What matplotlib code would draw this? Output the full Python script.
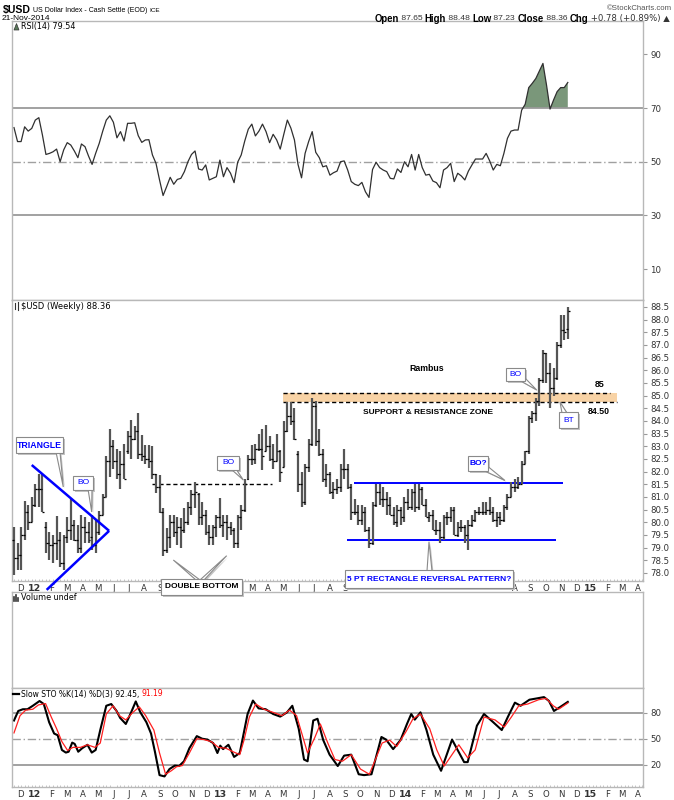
import numpy as np
import matplotlib
matplotlib.use('Agg')
import matplotlib.pyplot as plt
from matplotlib.patches import Polygon
import pandas as pd

# ---------------- DATA ----------------
start_date = pd.Timestamp('2011-11-25')   # first weekly bar
n_weeks = 157                             # last bar 2014-11-21

opens = [79.3, 78.6, 78.7, 79.5, 80.4, 80.0, 80.7, 81.3, 81.3, 79.8,
         79.2, 79.1, 79.2, 79.3, 78.4, 79.4, 79.7, 79.9, 79.3, 79.0,
         79.8, 79.6, 79.4, 79.1, 79.6, 80.3, 81.0, 82.4, 83.0, 82.4,
         81.9, 82.3, 82.8, 83.4, 83.3, 83.6, 82.7, 82.6, 82.5, 82.4,
         81.9, 81.4, 80.4, 78.9, 79.4, 80.0, 79.6, 79.8, 79.7, 80.0,
         80.6, 81.1, 81.1, 80.2, 80.3, 79.6, 79.4, 79.8, 80.2, 79.9,
         80.0, 79.8, 79.7, 79.2, 80.2, 80.5, 81.7, 82.5, 82.5, 82.9,
         82.9, 82.8, 83.0, 82.5, 82.4, 82.8, 82.2, 83.6, 84.2, 84.0,
         82.7, 81.5, 80.8, 82.2, 83.1, 84.6, 83.2, 82.7, 81.7, 81.9,
         81.2, 81.3, 81.4, 82.1, 82.1, 81.4, 80.4, 80.4, 80.1, 80.4,
         79.7, 79.2, 80.7, 81.2, 80.9, 80.9, 80.7, 80.3, 80.0, 80.5,
         80.2, 80.8, 80.6, 81.2, 80.6, 81.3, 80.7, 80.2, 80.3, 79.7,
         79.7, 79.4, 80.2, 80.2, 80.5, 79.5, 79.8, 79.8, 79.5, 79.9,
         80.1, 80.4, 80.4, 80.4, 80.5, 80.4, 80.1, 80.2, 80.1, 80.6,
         81.0, 81.4, 81.4, 81.5, 82.3, 82.8, 84.1, 84.3, 84.8, 85.6,
         86.7, 85.9, 85.3, 85.7, 87.0, 87.6, 87.65]
highs = [79.8, 79.2, 79.8, 80.85, 80.7, 81.0, 81.5, 81.9, 81.9, 80.0,
         79.6, 79.5, 80.25, 79.6, 79.5, 80.2, 80.9, 80.1, 79.9, 80.3,
         80.2, 80.0, 80.3, 80.1, 80.45, 81.1, 82.6, 83.7, 83.25, 82.9,
         82.8, 83.1, 83.6, 84.04, 83.8, 84.3, 83.45, 83.05, 83.05, 83.0,
         81.9, 81.87, 80.55, 79.76, 80.3, 80.3, 80.2, 80.16, 80.55, 80.8,
         81.28, 81.6, 81.14, 80.8, 80.5, 79.9, 79.9, 80.3, 80.97, 80.3,
         80.3, 80.0, 79.76, 80.3, 80.7, 81.7, 82.66, 83.05, 83.1, 83.5,
         83.7, 83.84, 83.4, 83.1, 83.5, 82.86, 84.0, 84.76, 84.76, 84.5,
         82.8, 82.0, 82.3, 83.3, 84.9, 84.8, 83.7, 82.9, 82.3, 82.0,
         81.6, 81.7, 82.3, 82.9, 82.3, 81.5, 80.9, 80.7, 80.7, 80.6,
         79.8, 80.8, 81.5, 81.5, 81.4, 81.2, 81.0, 80.6, 80.7, 80.6,
         81.0, 81.3, 81.3, 81.5, 81.5, 81.4, 80.9, 80.4, 80.5, 80.1,
         80.0, 80.3, 80.4, 80.6, 80.6, 80.0, 80.1, 79.9, 80.1, 80.3,
         80.5, 80.6, 80.8, 80.8, 81.0, 80.6, 80.4, 80.4, 80.7, 81.1,
         81.6, 81.7, 81.8, 82.4, 82.8, 84.2, 84.4, 84.9, 85.7, 86.8,
         86.7, 86.3, 86.1, 87.1, 88.2, 88.2, 88.48]
lows = [77.9, 78.1, 78.1, 79.3, 79.7, 80.0, 80.6, 80.6, 80.4, 78.8,
        78.5, 78.4, 78.5, 78.25, 78.1, 79.2, 79.3, 79.25, 78.8, 78.8,
        79.2, 79.2, 78.9, 78.8, 79.5, 80.3, 81.0, 81.8, 82.1, 81.7,
        81.3, 81.7, 82.7, 82.5, 83.25, 82.5, 82.4, 82.3, 82.13, 81.7,
        81.15, 80.35, 78.65, 78.8, 79.0, 79.4, 79.1, 78.97, 79.57, 79.9,
        80.29, 80.55, 79.9, 79.9, 79.5, 79.1, 79.1, 79.4, 79.76, 79.4,
        79.3, 79.5, 78.97, 78.97, 79.7, 80.4, 81.67, 82.26, 82.3, 82.8,
        82.06, 82.8, 82.4, 82.1, 82.4, 81.6, 82.2, 83.58, 83.84, 83.25,
        81.2, 80.6, 80.7, 82.0, 83.0, 83.0, 82.6, 81.6, 81.4, 81.1,
        80.9, 81.1, 81.2, 81.7, 81.3, 80.1, 80.3, 79.9, 79.9, 79.6,
        79.0, 79.1, 80.6, 80.7, 80.6, 80.3, 80.3, 79.9, 79.8, 79.9,
        80.0, 80.5, 80.5, 80.4, 80.5, 80.7, 80.2, 80.0, 79.7, 79.5,
        79.2, 79.3, 79.9, 80.0, 79.5, 79.4, 79.6, 79.2, 78.9, 79.8,
        80.0, 80.3, 80.3, 80.3, 80.3, 80.0, 79.8, 79.9, 80.0, 80.5,
        81.0, 81.2, 81.3, 81.5, 82.3, 82.7, 83.9, 84.0, 84.6, 85.5,
        85.5, 84.5, 85.0, 85.6, 86.9, 87.2, 87.23]
closes = [78.6, 78.7, 79.5, 80.4, 80.0, 80.7, 81.3, 81.3, 80.4, 79.2,
          79.1, 79.2, 79.3, 78.4, 79.4, 79.7, 79.9, 79.3, 79.0, 79.8,
          79.6, 79.3, 79.1, 79.6, 80.3, 81.0, 82.4, 83.0, 82.4, 81.9,
          82.3, 81.7, 83.4, 83.3, 83.6, 82.7, 82.6, 82.5, 82.4, 81.9,
          81.4, 80.4, 78.9, 79.4, 80.0, 79.6, 79.8, 79.7, 80.0, 80.6,
          81.1, 81.2, 80.2, 80.3, 79.6, 79.4, 79.8, 80.2, 79.9, 80.0,
          79.8, 79.7, 79.2, 80.2, 80.5, 81.5, 82.5, 82.5, 82.9, 82.9,
          82.6, 83.0, 82.5, 82.4, 82.8, 82.0, 83.6, 84.2, 84.0, 83.3,
          81.5, 80.8, 82.2, 83.1, 84.6, 83.2, 82.7, 81.7, 81.9, 81.2,
          81.3, 81.4, 82.1, 82.1, 81.4, 80.4, 80.4, 80.1, 80.4, 79.7,
          79.2, 80.7, 81.2, 80.9, 80.9, 80.7, 80.3, 80.0, 80.5, 80.2,
          80.8, 80.6, 81.2, 80.6, 81.3, 80.7, 80.2, 80.3, 79.7, 79.7,
          79.4, 80.2, 80.2, 80.5, 79.5, 79.8, 79.8, 79.5, 79.9, 80.1,
          80.4, 80.4, 80.4, 80.5, 80.4, 80.1, 80.2, 80.1, 80.6, 81.0,
          81.4, 81.4, 81.5, 82.3, 82.8, 84.1, 84.3, 84.8, 85.6, 86.7,
          85.9, 85.3, 85.7, 87.0, 87.6, 87.5, 88.36]

rsi = [62.7, 57.5, 57.5, 63.0, 61.4, 62.4, 65.5, 66.4, 60.0, 52.7,
       53.1, 53.7, 54.7, 50.0, 54.4, 57.1, 56.2, 54.0, 51.5, 56.6,
       55.6, 52.1, 49.0, 53.1, 56.8, 61.4, 65.5, 67.1, 64.7, 58.9,
       61.2, 57.7, 64.3, 64.3, 64.5, 59.7, 57.2, 58.1, 58.2, 52.5,
       49.4, 43.2, 37.4, 40.7, 44.2, 41.6, 43.4, 43.8, 46.3, 50.0,
       52.7, 54.0, 47.3, 46.9, 48.8, 43.2, 43.8, 44.4, 50.6, 44.4,
       47.8, 45.7, 42.2, 49.8, 52.5, 57.7, 62.1, 64.0, 59.6, 61.4,
       64.0, 61.2, 57.1, 60.2, 58.1, 54.7, 60.2, 65.5, 62.5, 58.1,
       49.0, 44.0, 53.1, 57.5, 61.2, 53.5, 51.5, 48.1, 48.5, 45.0,
       45.9, 46.5, 50.0, 50.3, 46.9, 42.6, 41.6, 41.1, 42.3, 38.8,
       36.7, 47.1, 49.8, 47.8, 46.9, 46.3, 43.8, 43.6, 47.3, 46.0,
       50.0, 48.1, 52.7, 46.9, 52.7, 47.8, 45.0, 45.3, 42.8, 42.2,
       40.3, 46.9, 47.8, 49.4, 42.6, 45.7, 44.7, 43.2, 46.5, 48.8,
       51.0, 51.0, 51.0, 53.1, 50.3, 46.9, 49.0, 48.5, 53.1, 58.7,
       61.4, 61.8, 61.8, 69.2, 71.4, 77.6, 79.2, 81.0, 83.8, 86.6,
       78.6, 69.6, 73.0, 76.1, 77.6, 77.6, 79.5]

# Slow stochastic, read as line vertices (week position, value)
sto_k_wk = [0.0, 1.2, 2.5, 3.8, 5.3, 7.2, 8.4, 9.9, 11.3, 12.3, 13.5, 14.6, 15.4,
            16.4, 17.1, 18.1, 19.2, 20.7, 21.9, 23.0, 24.3, 26.0, 27.4, 28.9, 29.9,
            31.5, 33.0, 34.3, 35.6, 37.3, 38.6, 39.7, 41.0, 42.4, 43.8, 45.3, 46.5,
            47.9, 49.4, 51.5, 53.0, 54.5, 56.1, 57.3, 58.1, 58.9, 60.4, 62.0, 63.6,
            65.8, 67.3, 68.9, 70.9, 73.0, 75.0, 76.9, 78.4, 80.2, 81.7, 82.7, 84.3,
            85.5, 87.1, 88.9, 91.2, 93.0, 95.0, 97.1, 98.6, 100.7, 103.5, 104.8,
            106.8, 108.9, 110.7, 111.9, 112.9, 114.5, 116.2, 118.1, 120.3, 123.4,
            124.7, 126.8, 127.8, 130.4, 132.4, 135.0, 137.4, 139.1, 141.1, 142.7,
            145.2, 147.3, 149.3, 150.7, 152.1, 153.9, 156.0]
sto_k_val = [71, 82, 84, 84, 88, 93.5, 90, 69, 56, 54, 37, 34, 35,
             45.5, 44, 35, 39, 43, 34, 37, 60, 88, 90, 82, 74,
             67, 80.4, 93, 80.4, 69, 56, 35, 8, 6.5, 15, 19, 18.5,
             24, 39, 53, 50, 49, 45, 33.5, 42, 38, 43, 29, 33.5,
             78.5, 94, 85, 84, 78.5, 75.5, 80.4, 88, 61.6, 26, 24, 71,
             73, 48.5, 31.6, 18.5, 30.5, 31.6, 9, 8, 9, 52, 49,
             38, 48.5, 67, 78.5, 72, 80.4, 60, 31.6, 13, 49,
             39, 23, 23, 65, 78.5, 69, 60, 75, 91.6, 88,
             95, 96.5, 98, 93.5, 82, 86.7, 92.45]
sto_d_wk = [0.0, 1.7, 3.3, 5.3, 6.9, 8.9, 10.5, 12.0, 13.5, 15.1, 16.6, 18.7, 20.7,
            22.8, 24.3, 26.0, 27.9, 29.7, 31.5, 33.5, 35.3, 37.1, 39.4, 41.0, 42.7,
            44.3, 45.8, 47.4, 49.4, 51.5, 53.5, 55.6, 57.6, 59.7, 61.7, 63.6, 64.8,
            66.3, 68.1, 70.4, 73.0, 75.5, 77.6, 79.6, 82.7, 84.8, 86.3, 88.4, 90.4,
            92.5, 95.0, 97.6, 100.1, 103.7, 105.8, 107.8, 110.4, 112.4, 114.5, 117.1,
            119.1, 121.2, 123.7, 125.3, 127.8, 129.9, 132.4, 135.5, 138.1, 140.1,
            142.2, 144.7, 147.8, 149.9, 151.9, 153.4, 156.0]
sto_d_val = [56.7, 76.6, 83, 84, 89, 90.5, 75, 61.6, 46.6, 36.5, 40, 40, 43,
             40, 45, 78.5, 88, 76.6, 71.7, 80.4, 86.7, 76.6, 60, 33.5, 9,
             13, 17.7, 19, 33.5, 50, 49, 46.6, 40, 39, 35, 31.6, 48.5,
             75, 90, 84, 80.4, 76.6, 83, 76.6, 33.5, 52, 67, 45, 26,
             24, 31.6, 15, 9, 45, 48.5, 41, 58, 73, 78.5, 61.6,
             37, 18.5, 33.5, 43, 28, 37, 75, 71.7, 63.5, 75,
             88, 90, 95, 96.5, 88, 84, 91.19]

price_ticks = [78.0, 78.5, 79.0, 79.5, 80.0, 80.5, 81.0, 81.5, 82.0, 82.5, 83.0,
               83.5, 84.0, 84.5, 85.0, 85.5, 86.0, 86.5, 87.0, 87.5, 88.0, 88.5]
rsi_ticks = [10, 30, 50, 70, 90]
sto_ticks = [20, 50, 80]

# ---------------- FIGURE ----------------
W, H = 674, 800
fig = plt.figure(figsize=(6.74, 8.0), dpi=100)
fig.patch.set_facecolor('white')

def fx(x):
    return x / W

def fy(y):
    return 1 - y / H

L_PX, R_PX = 12.5, 643.3
XLIM = (-0.42, 177.27)
SPINE = '#b8b8b8'

def wk_to_px(w):
    return L_PX + (w - XLIM[0]) / (XLIM[1] - XLIM[0]) * (R_PX - L_PX)

def make_ax(top, bottom):
    ax = fig.add_axes([fx(L_PX), fy(bottom), (R_PX - L_PX) / W, (bottom - top) / H])
    ax.set_xlim(*XLIM)
    for s in ax.spines.values():
        s.set_color(SPINE)
        s.set_linewidth(1.0)
    ax.yaxis.tick_right()
    ax.tick_params(axis='y', labelsize=6.2, length=3, color='#999999',
                   labelcolor='#333333', pad=2)
    ax.tick_params(axis='x', length=0, labelbottom=False)
    return ax

ax_rsi = make_ax(21, 300)
ax_px = make_ax(300, 581)
ax_vol = make_ax(592, 688)
ax_sto = make_ax(688, 787)

x = np.arange(n_weeks)

def wk(d):
    return (d - start_date).days / 7.0

# month labels
months = pd.date_range('2011-12-01', '2015-04-01', freq='MS')
letters = 'JFMAMJJASOND'
tick_pos, tick_lab, tick_bold = [], [], []
for m in months:
    if m.month == 1:
        tick_pos.append(wk(m) + 0.6)
        tick_lab.append(f'{m.year % 100:02d}')
        tick_bold.append(True)
    else:
        tick_pos.append(wk(m) + 1.0)
        tick_lab.append(letters[m.month - 1])
        tick_bold.append(False)

# label areas hidden behind callout boxes on the price panel
hidden_px = [(164, 244), (347, 511)]

for ax in (ax_px, ax_sto):
    ax.set_xticks(tick_pos)
    ax.set_xticklabels(tick_lab)
    ax.tick_params(axis='x', labelbottom=True, labelsize=6.2, labelcolor='#333333', pad=2.5)
    for lbl, b, p in zip(ax.get_xticklabels(), tick_bold, tick_pos):
        if b:
            lbl.set_fontweight('bold')
            lbl.set_fontsize(6.8)
        if ax is ax_px:
            xp = wk_to_px(p)
            if any(a <= xp <= b2 for a, b2 in hidden_px):
                lbl.set_visible(False)
    ax.set_xticks(np.arange(0, 178, 1), minor=True)
    ax.tick_params(axis='x', which='minor', length=1.5, color='#bbbbbb', direction='in')

# ---------------- RSI ----------------
ax_rsi.set_ylim(-1.5, 102.4)
ax_rsi.set_yticks(rsi_ticks)
ax_rsi.axhline(70, color='#9a9a9a', lw=1.3)
ax_rsi.axhline(30, color='#9a9a9a', lw=1.3)
ax_rsi.axhline(50, color='#a0a0a0', lw=1.0, ls=(0, (6, 2, 1, 2)))
rsi_arr = np.array(rsi)
ax_rsi.fill_between(x, rsi_arr, 70, where=rsi_arr > 70, interpolate=True,
                    color='#7a977a', linewidth=0)
ax_rsi.plot(x, rsi_arr, color='#303030', lw=0.9)

# ---------------- PRICE ----------------
ax_px.set_ylim(77.68, 88.776)
ax_px.set_yticks(price_ticks)
ax_px.set_yticklabels([f'{v:.1f}' for v in price_ticks])

# support/resistance zone
z0, z1 = 75.9, 169.9
ax_px.fill_between([z0, z1], 84.75, 85.1, color='#f8d3a6', lw=0, zorder=1)
ax_px.hlines(85.1, z0, 168.0, colors='black', linestyles=(0, (3, 2)), lw=1.0, zorder=2)
ax_px.hlines(84.75, z0, z1, colors='black', linestyles=(0, (3, 2)), lw=1.0, zorder=2)
# earlier dashed resistance line
ax_px.hlines(81.5, 38.8, 72.6, colors='black', linestyles=(0, (3, 2)), lw=1.0, zorder=2)
# rectangle lines
ax_px.hlines(81.55, 95.8, 154.7, colors='#0000ff', lw=1.4, zorder=2)
ax_px.hlines(79.3, 93.9, 152.7, colors='#0000ff', lw=1.4, zorder=2)
# triangle
ax_px.plot([5.0, 26.8], [82.26, 79.66], color='#0000ff', lw=1.8, zorder=4,
           solid_capstyle='butt')
ax_px.plot([9.2, 26.8], [77.33, 79.66], color='#0000ff', lw=1.8, zorder=4,
           clip_on=False, solid_capstyle='butt')

# OHLC bars
ax_px.vlines(x, lows, highs, color='#555555', lw=1.6, zorder=3)
ax_px.hlines(opens, x - 0.5, x, color='black', lw=0.9, zorder=3)
ax_px.hlines(closes, x, x + 0.5, color='black', lw=0.9, zorder=3)

# ---------------- VOLUME ----------------
ax_vol.set_ylim(0, 1)
ax_vol.set_yticks([])

# ---------------- STO ----------------
ax_sto.set_ylim(-5.7, 108.5)
ax_sto.set_yticks(sto_ticks)
ax_sto.axhline(80, color='#9a9a9a', lw=1.3)
ax_sto.axhline(20, color='#9a9a9a', lw=1.3)
ax_sto.axhline(50, color='#a0a0a0', lw=1.0, ls=(0, (6, 2, 1, 2)))
ax_sto.plot(sto_k_wk, sto_k_val, color='black', lw=1.5)
ax_sto.plot(sto_d_wk, sto_d_val, color='#ff2020', lw=0.9)

# ---------------- TEXT HELPERS ----------------
renderer = fig.canvas.get_renderer()

def seq_text(x0, y0, parts, align='left'):
    """parts: list of (text, weight, color, size, family)"""
    arts = []
    widths = []
    for (t, w, c, s, fam) in parts:
        a = fig.text(0, 0, t, fontsize=s, fontweight=w, color=c, family=fam,
                     va='center', ha='left')
        widths.append(a.get_window_extent(renderer).width)
        arts.append(a)
    total = sum(widths)
    xs = x0 if align == 'left' else x0 - total
    for a, wd in zip(arts, widths):
        a.set_position((fx(xs), fy(y0)))
        xs += wd

SANS = ['DejaVu Sans']
ARIAL = ['Liberation Sans', 'DejaVu Sans']

seq_text(3, 10, [('$USD', 'bold', 'black', 7.6, ARIAL),
                 (' US Dollar Index - Cash Settle (EOD) ', 'normal', 'black', 5.0, ARIAL),
                 ('ICE', 'normal', 'black', 4.6, ARIAL)])
fig.text(fx(672), fy(9), '\u00a9StockCharts.com', fontsize=5.6, color='#555555',
         ha='right', va='center', family=ARIAL)
fig.text(fx(2), fy(18.5), '21-Nov-2014', fontsize=6.0, color='black', ha='left',
         va='center', family=ARIAL)
seq_text(670, 18.5, [('Open', 'bold', 'black', 6.9, ARIAL), (' 87.65 ', 'normal', '#333333', 6.1, ARIAL),
                     ('High', 'bold', 'black', 6.9, ARIAL), (' 88.48 ', 'normal', '#333333', 6.1, ARIAL),
                     ('Low', 'bold', 'black', 6.9, ARIAL), (' 87.23 ', 'normal', '#333333', 6.1, ARIAL),
                     ('Close', 'bold', 'black', 6.9, ARIAL), (' 88.36 ', 'normal', '#333333', 6.1, ARIAL),
                     ('Chg', 'bold', 'black', 6.9, ARIAL), (' +0.78 (+0.89%) \u25b2', 'normal', '#333333', 6.1, SANS)],
         align='right')

# panel headers
seq_text(21, 27, [('RSI(14) 79.54', 'normal', 'black', 5.8, SANS)])
seq_text(21, 306, [('$USD (Weekly) 88.36', 'normal', 'black', 6.0, SANS)])
seq_text(21, 598, [('Volume undef', 'normal', 'black', 5.8, SANS)])
seq_text(21, 694, [('Slow STO %K(14) %D(3) 92.45, ', 'normal', 'black', 5.5, SANS),
                   ('91.19', 'normal', '#ff0000', 5.5, SANS)])

def fig_poly(pts, **kw):
    p = Polygon([(fx(a), fy(b)) for a, b in pts], closed=True,
                transform=fig.transFigure, **kw)
    fig.add_artist(p)
    return p

# small icons
fig_poly([(14, 30), (16.5, 23.5), (19, 30)], facecolor='#5a7a5a', edgecolor='#333333', lw=0.5)
fig.add_artist(plt.Line2D([fx(14.5), fx(14.5)], [fy(303), fy(309)], color='#333', lw=0.8, transform=fig.transFigure))
fig.add_artist(plt.Line2D([fx(17.5), fx(17.5)], [fy(302), fy(310)], color='#333', lw=0.8, transform=fig.transFigure))
for xx, hh in ((14, 4), (16, 6), (18, 3)):
    fig.add_artist(plt.Line2D([fx(xx), fx(xx)], [fy(601), fy(601 - hh)], color='#333', lw=1.2, transform=fig.transFigure))
fig.add_artist(plt.Line2D([fx(13), fx(19)], [fy(694), fy(694)], color='black', lw=1.6, transform=fig.transFigure))

# ---------------- CALLOUTS ----------------
EDGE = '#8a8a8a'
SHADOW = '#c4c4c4'

def callout(box, pointers, text, color='#0000ff', fs=6.0, weight='bold'):
    x0, y0, x1, y1 = box
    for (b1, b2, tip) in pointers:
        fig_poly([(b1[0] + 1.5, b1[1] + 1.5), (tip[0] + 1.5, tip[1] + 1.5), (b2[0] + 1.5, b2[1] + 1.5)],
                 facecolor=SHADOW, edgecolor='none')
    fig_poly([(x0 + 2, y0 + 2), (x1 + 2, y0 + 2), (x1 + 2, y1 + 2), (x0 + 2, y1 + 2)],
             facecolor=SHADOW, edgecolor='none')
    for (b1, b2, tip) in pointers:
        fig_poly([b1, tip, b2], facecolor='white', edgecolor=EDGE, lw=0.8)
    fig_poly([(x0, y0), (x1, y0), (x1, y1), (x0, y1)], facecolor='white',
             edgecolor=EDGE, lw=0.8)
    fig.text(fx((x0 + x1) / 2), fy((y0 + y1) / 2), text, color=color, fontsize=fs,
             fontweight=weight, ha='center', va='center', family=ARIAL)

callout((16, 437, 63, 453), [((56, 452), (60, 452), (63.3, 487))], 'TRIANGLE', fs=6.3)
callout((72.7, 476, 93.3, 490), [((88, 489), (92, 489), (91.7, 512))], 'BO', fs=6.0, weight='normal')
callout((217.3, 456, 239.3, 470), [((231, 469), (236, 469), (243.3, 480))], 'BO', fs=6.0, weight='normal')
callout((160.7, 579, 241.7, 595), [((196, 580), (200, 580), (173.3, 560)),
                                    ((200, 580), (204, 580), (226.7, 555.7))],
        'DOUBLE BOTTOM', color='black', fs=6.0)
callout((505.7, 367.7, 525, 381), [((519, 380), (524, 377), (536.7, 390))], 'BO', fs=6.0, weight='normal')
callout((559, 412.3, 578.3, 427.7), [((562, 413), (567, 413), (560, 402))], 'BT', fs=6.0, weight='normal')
callout((468.3, 456, 488.3, 470.7), [((482, 469.7), (487.3, 466), (505, 480.5))], 'BO?', fs=6.0)
callout((345, 570, 512.7, 588.3), [((427, 571), (432, 571), (429, 541.7))],
        '5 PT RECTANGLE REVERSAL PATTERN?', fs=6.0)

# plain annotation texts
fig.text(fx(427), fy(369), 'Rambus', fontsize=6.3, fontweight='bold', ha='center', va='center', family=ARIAL)
fig.text(fx(428), fy(412), 'SUPPORT & RESISTANCE ZONE', fontsize=6.0, fontweight='bold',
         ha='center', va='center', family=ARIAL)
fig.text(fx(599.3), fy(385), '85', fontsize=6.3, fontweight='bold', ha='center', va='center', family=ARIAL)
fig.text(fx(598.3), fy(411), '84.50', fontsize=6.3, fontweight='bold', ha='center', va='center', family=ARIAL)

fig.savefig('out.png', dpi=100, facecolor='white')
